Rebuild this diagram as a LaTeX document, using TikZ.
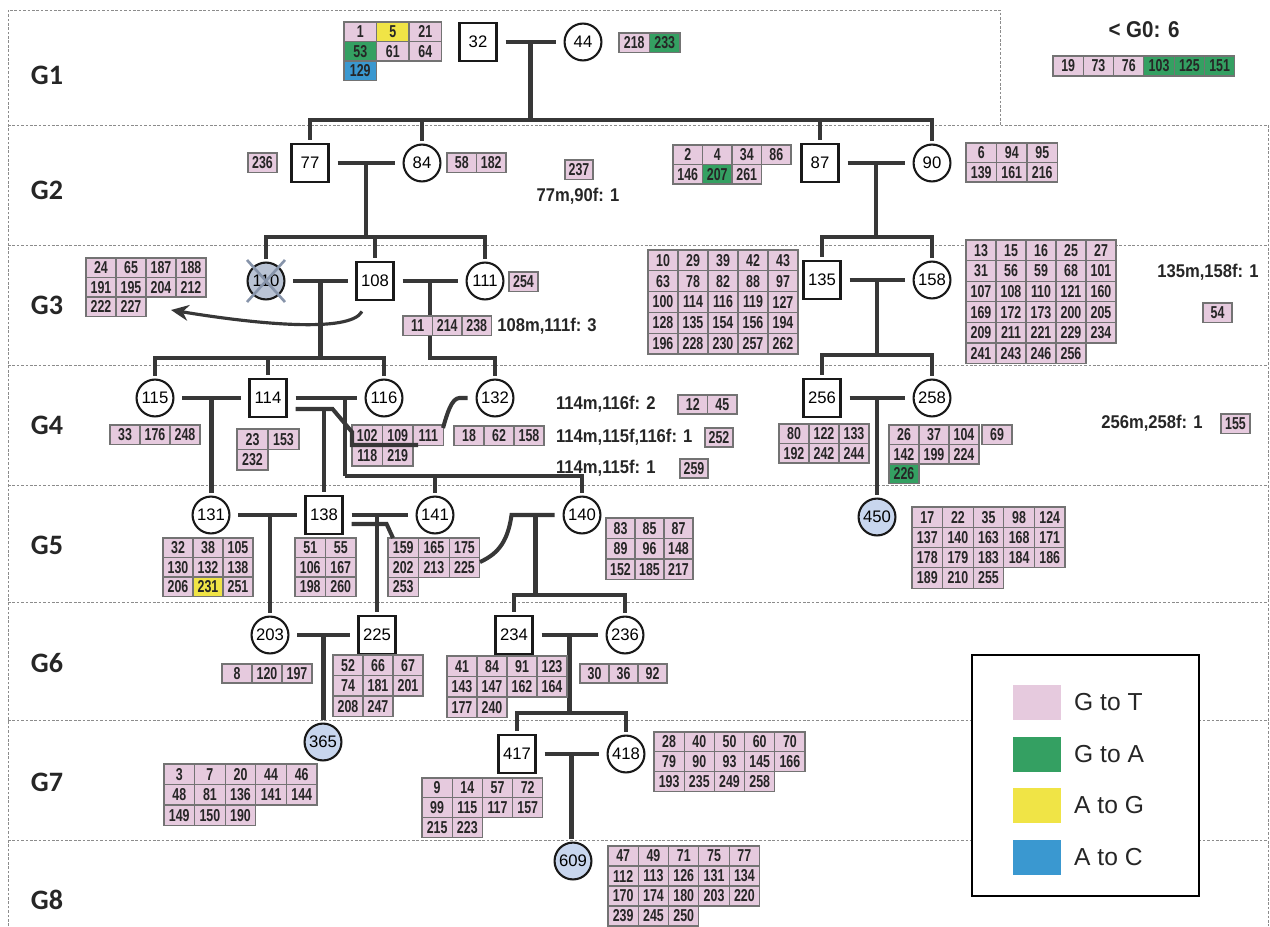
\documentclass[tikz,border=0pt]{standalone}
\usepackage{fontspec}
\setmainfont{Liberation Sans}
\newfontfamily\cellfont[FakeStretch=0.72]{Liberation Sans}
\newfontfamily\notefont[FakeStretch=0.9]{Liberation Sans}
\newfontfamily\genfont{Carlito}
\usepackage{tikz}
\usetikzlibrary{arrows.meta,calc}
\definecolor{mutP}     {RGB}{230, 202, 222}
\definecolor{mutG}     {RGB}{ 52, 160,  98}
\definecolor{mutY}     {RGB}{240, 228,  70}
\definecolor{mutB}     {RGB}{ 58, 152, 208}
\definecolor{lineGray} {RGB}{ 55,  55,  55}
\definecolor{bornBlue} {RGB}{200, 214, 238}
\definecolor{deadBlue} {RGB}{185, 195, 212}
\definecolor{crossGray}{RGB}{135, 148, 170}

% colour of a mutation (pink unless set here)
\newcommand\setmut[2]{\expandafter\def\csname mutc#1\endcsname{#2}}
\setmut{5}{mutY}\setmut{231}{mutY}\setmut{129}{mutB}
\setmut{53}{mutG}\setmut{233}{mutG}\setmut{103}{mutG}\setmut{125}{mutG}
\setmut{151}{mutG}\setmut{207}{mutG}\setmut{226}{mutG}

% block of mutation cells: left x, top y, cell width, cell height, rows
\newcommand\mutbox[5]{%
  \foreach \mrow [count=\mlin from 0] in {#5}{%
    \foreach \mnum [count=\mcol from 0] in \mrow{%
      \edef\fc{\ifcsname mutc\mnum\endcsname\csname mutc\mnum\endcsname\else mutP\fi}%
      \path[cell,fill=\fc] ({#1+\mcol*#3},{#2+\mlin*#4}) rectangle ++(#3,#4)
        node[midway,celltxt]{\mnum};
    }}}

\begin{document}
\begin{tikzpicture}[x=0.02cm,y=-0.02cm,
    male/.style={rectangle,draw=black!90,line width=1.3pt,fill=white,
      minimum width=21pt,minimum height=22pt,inner sep=0pt,
      font=\fontsize{9.5}{10}\selectfont},
    female/.style={circle,draw=black!90,line width=1.2pt,fill=white,
      minimum size=21pt,inner sep=0pt,font=\fontsize{9.5}{10}\selectfont},
    born/.style={female,fill=bornBlue},
    link/.style={draw=lineGray,line width=2.3pt},
    couple/.style={link,shorten <=4.5pt,shorten >=4.5pt},
    drop/.style={link,shorten >=1.5pt},
    cell/.style={draw=black!55,line width=0.6pt},
    celltxt/.style={font={\cellfont\bfseries\fontsize{9.8}{10}\selectfont},
      text=black!85,inner sep=0pt},
    note/.style={font={\notefont\bfseries\fontsize{10.5}{11}\selectfont},
      text=black!85,inner sep=1pt},
    gen/.style={font={\genfont\bfseries\fontsize{16}{18}\selectfont},text=black!85},
    band/.style={draw=black!45,line width=0.5pt,dash pattern=on 1.5pt off 1pt},
    deadx/.style={draw=crossGray,line width=1.5pt},
    legtxt/.style={font=\fontsize{14}{16}\selectfont,text=black!85,anchor=west}]

  \useasboundingbox (0,0) rectangle (1270,926);

  % ─── Generation bands ─────────────────────────────────
  \draw[band] (8,926) -- (8,10) -- (1000,10) -- (1000,125);
  \foreach \y in {125,245,365,485,602,720,840}{
    \draw[band] (8,\y) -- (1268,\y);
  }
  \draw[band] (1268,125) -- (1268,926);
  \foreach \g/\y in {1/75,2/190,3/305,4/425,5/545,6/663,7/782,8/900}{
    \node[gen] (g\g) at (47,\y) {G\g};
  }

  % ─── Individuals ──────────────────────────────────────
  \node[male]   (p32)  at (478,42)  {32};
  \node[female] (p44)  at (583,42)  {44};
  \node[male]   (p77)  at (310,163) {77};
  \node[female] (p84)  at (422,163) {84};
  \node[male]   (p87)  at (820,163) {87};
  \node[female] (p90)  at (932,163) {90};
  \node[female,fill=deadBlue] (p110) at (266,281) {110};
  \node[male]   (p108) at (375,281) {108};
  \node[female] (p111) at (485,281) {111};
  \node[male]   (p135) at (822,280) {135};
  \node[female] (p158) at (932,280) {158};
  \node[female] (p115) at (155,398) {115};
  \node[male]   (p114) at (268,398) {114};
  \node[female] (p116) at (384,398) {116};
  \node[female] (p132) at (495,398) {132};
  \node[male]   (p256) at (822,398) {256};
  \node[female] (p258) at (932,398) {258};
  \node[female] (p131) at (211,515) {131};
  \node[male]   (p138) at (324,515) {138};
  \node[female] (p141) at (435,515) {141};
  \node[female] (p140) at (582,515) {140};
  \node[born]   (p450) at (877,517) {450};
  \node[female] (p203) at (270,635) {203};
  \node[male]   (p225) at (377,635) {225};
  \node[male]   (p234) at (514,635) {234};
  \node[female] (p236) at (625,635) {236};
  \node[born]   (p365) at (323,742) {365};
  \node[male]   (p417) at (517,754) {417};
  \node[female] (p418) at (626,754) {418};
  \node[born]   (p609) at (573,861) {609};
  % 110 crossed out
  \draw[deadx] ($(p110)+(-19,-21)$) -- ($(p110)+(19,21)$);
  \draw[deadx] ($(p110)+(-19,21)$) -- ($(p110)+(19,-21)$);

  % ─── Couples and descents ─────────────────────────────
  \draw[couple] (p32) -- (p44);
  \coordinate (m32) at ($(p32)!.5!(p44)$);
  \coordinate (k32) at ($(m32)+(0,78)$);
  \draw[link] (m32) -- (k32);
  \draw[drop] (k32) -| (p77.north);
  \draw[drop] (k32) -| (p90.north);
  \draw[drop] (k32 -| p84) -- (p84.north);
  \draw[drop] (k32 -| p87) -- (p87.north);

  \draw[couple] (p77) -- (p84);
  \coordinate (m77) at ($(p77)!.5!(p84)$);
  \coordinate (k77) at ($(m77)+(0,74)$);
  \draw[link] (m77) -- (k77);
  \draw[drop] (k77) -| (p110.north);
  \draw[drop] (k77) -| (p111.north);
  \draw[drop] (k77 -| p108) -- (p108.north);

  \draw[couple] (p87) -- (p90);
  \coordinate (m87) at ($(p87)!.5!(p90)$);
  \coordinate (k87) at ($(m87)+(0,74)$);
  \draw[link] (m87) -- (k87);
  \draw[drop] (k87) -| (p135.north);
  \draw[drop] (k87) -| (p158.north);

  \draw[couple] (p110) -- (p108);
  \coordinate (m110) at ($(p110)!.5!(p108)$);
  \coordinate (k110) at ($(m110)+(0,77)$);
  \draw[link] (m110) -- (k110);
  \draw[drop] (k110) -| (p115.north);
  \draw[drop] (k110) -| (p116.north);
  \draw[drop] (k110 -| p114) -- (p114.north);

  \draw[couple] (p108) -- (p111);
  \coordinate (m108) at ($(p108)!.5!(p111)$);
  \coordinate (k108) at ($(m108)+(0,77)$);
  \draw[drop] (m108) -- (k108) -| (p132.north);

  \draw[couple] (p135) -- (p158);
  \coordinate (m135) at ($(p135)!.5!(p158)$);
  \coordinate (k135) at ($(m135)+(0,75)$);
  \draw[link] (m135) -- (k135);
  \draw[drop] (k135) -| (p256.north);
  \draw[drop] (k135) -| (p258.north);

  \draw[couple] (p115) -- (p114);
  \coordinate (m115) at ($(p115)!.5!(p114)$);
  \draw[drop] (m115) -- (m115 |- p131.north);

  \draw[couple] (p114) -- (p116);
  \coordinate (m114) at ($(p114.east)+(57,0)$);
  \coordinate (k114) at ($(m114)+(0,78)$);
  \draw[link] (m114) -- (k114);
  \draw[drop] (k114) -| (p140.north);
  \draw[drop] (k114 -| p141) -- (p141.north);
  \coordinate (t114) at ($(p114.east)+(8,11)$);
  \draw[drop] (t114 -| p138) -- (p138.north);

  \draw[couple] (p256) -- (p258);
  \coordinate (m256) at ($(p256)!.5!(p258)$);
  \draw[drop] (m256) -- (p450.north);

  \draw[couple] (p131) -- (p138);
  \draw[drop] (p203 |- p131) -- (p203.north);

  \draw[couple] (p138) -- (p141);
  \draw[drop] (p225 |- p138) -- (p225.north);

  \coordinate (m140) at ($(p140.west)+(-27,0)$);
  \coordinate (k140) at ($(m140)+(0,80)$);
  \draw[link] (m140) -- (k140);
  \draw[drop] (k140) -| (p234.north);
  \draw[drop] (k140) -| (p236.north);

  \draw[couple] (p203) -- (p225);
  \coordinate (m203) at ($(p203)!.5!(p225)$);
  \draw[drop] (m203) -- (m203 |- p365.north);

  \draw[couple] (p234) -- (p236);
  \coordinate (m234) at ($(p234)!.5!(p236)$);
  \coordinate (k234) at ($(m234)+(0,78)$);
  \draw[link] (m234) -- (k234);
  \draw[drop] (k234) -| (p417.north);
  \draw[drop] (k234) -| (p418.north);

  \draw[couple] (p417) -- (p418);
  \coordinate (m417) at ($(p417)!.5!(p418)$);
  \draw[drop] (m417) -- (m417 |- p609.north);

  % ─── Mutation blocks ──────────────────────────────────
  % G1
  \mutbox{344}{22}{32.5}{19.5}{{1,5,21},{53,61,64},{129}}
  \mutbox{619}{33}{30.5}{19.5}{{218,233}}
  \mutbox{1053}{56}{30.3}{20}{{19,73,76,103,125,151}}
  % G2
  \mutbox{248}{153}{29}{19.5}{{236}}
  \mutbox{447}{153}{29.5}{19.5}{{58,182}}
  \mutbox{565}{160}{28}{19.5}{{237}}
  \mutbox{673}{145}{29.5}{19.5}{{2,4,34,86},{146,207,261}}
  \mutbox{966}{143}{30.5}{19.5}{{6,94,95},{139,161,216}}
  % G3
  \mutbox{86}{258}{30}{19.5}{{24,65,187,188},{191,195,204,212},{222,227}}
  \mutbox{509}{272}{29}{19.5}{{254}}
  \mutbox{403}{316}{29.5}{19.5}{{11,214,238}}
  \mutbox{648}{250}{30}{20.8}{{10,29,39,42,43},{63,78,82,88,97},
    {100,114,116,119,127},{128,135,154,156,194},{196,228,230,257,262}}
  \mutbox{966}{240}{30}{20.6}{{13,15,16,25,27},{31,56,59,68,101},
    {107,108,110,121,160},{169,172,173,200,205},{209,211,221,229,234},
    {241,243,246,256}}
  \mutbox{1203}{303}{29}{19.5}{{54}}
  % G4
  \mutbox{110}{425}{30}{19.5}{{33,176,248}}
  \mutbox{237}{429}{31}{20.5}{{23,153},{232}}
  \mutbox{352}{425}{30.5}{20.5}{{102,109,111},{118,219}}
  \mutbox{454}{426}{30}{19.5}{{18,62,158}}
  \mutbox{678}{395}{29.5}{19}{{12,45}}
  \mutbox{705}{428}{28}{19}{{252}}
  \mutbox{680}{459}{28}{19}{{259}}
  \mutbox{779}{424}{30}{19.5}{{80,122,133},{192,242,244}}
  \mutbox{889}{425}{30}{19.5}{{26,37,104},{142,199,224},{226}}
  \mutbox{982}{425}{30}{19.5}{{69}}
  \mutbox{1221}{414}{29}{19.5}{{155}}
  % G5
  \mutbox{163}{538}{30}{19.5}{{32,38,105},{130,132,138},{206,231,251}}
  \mutbox{295}{538}{30.5}{19.5}{{51,55},{106,167},{198,260}}
  \mutbox{388}{538}{30.6}{19.6}{{159,165,175},{202,213,225},{253}}
  \mutbox{606}{518}{29}{20.5}{{83,85,87},{89,96,148},{152,185,217}}
  \mutbox{912}{507}{30.6}{20.3}{{17,22,35,98,124},{137,140,163,168,171},
    {178,179,183,184,186},{189,210,255}}
  % G6
  \mutbox{222}{664}{30}{19}{{8,120,197}}
  \mutbox{333}{655}{30}{20.5}{{52,66,67},{74,181,201},{208,247}}
  \mutbox{447}{656}{30}{20.5}{{41,84,91,123},{143,147,162,164},{177,240}}
  \mutbox{580}{664}{29}{19}{{30,36,92}}
  % G7
  \mutbox{164}{764}{30.6}{20.5}{{3,7,20,44,46},{48,81,136,141,144},{149,150,190}}
  \mutbox{422}{778}{30.2}{19.7}{{9,14,57,72},{99,115,117,157},{215,223}}
  \mutbox{654}{732}{30.2}{19.7}{{28,40,50,60,70},{79,90,93,145,166},
    {193,235,249,258}}
  % G8
  \mutbox{608}{846}{30.3}{20}{{47,49,71,75,77},{112,113,126,131,134},
    {170,174,180,203,220},{239,245,250}}

  % ─── Lines into the blocks ────────────────────────────
  \coordinate (q102) at (352,432);
  \draw[link] (t114) -- ++(37,0) -- (q102) |- ++(66,13);
  \coordinate (q111) at (443,428);
  \draw[link,shorten <=4.5pt] (p132.west) -- ++(-16,0)
    .. controls +(-8,0) and +(4,-14) .. (q111);
  \coordinate (t138) at ($(p138.east)+(8,9)$);
  \coordinate (q159) at (393,538);
  \draw[link] (t138) -- ++(35,0) -- (q159);
  \coordinate (q225) at (480,562);
  \draw[link,shorten <=4.5pt] (p140.west) -- ++(-51,0)
    .. controls +(-4,30) and +(15,-7) .. (q225);
  % 108 -> block of 110
  \coordinate (a110) at (171,310);
  \draw[link,line width=1.8pt,-{Stealth[length=10pt,width=9pt]}]
    ($(p108.south)+(-13,10)$) .. controls +(-12,22) and +(85,14) .. (a110);

  % ─── Counts ───────────────────────────────────────────
  \node[font={\notefont\bfseries\fontsize{13}{14}\selectfont},text=black!85] (g0) at (1144,30) {< G0: 6};
  \node[note] (r77)  at (578,196)  {77m,90f: 1};
  \node[note] (r108) at (547,326)  {108m,111f: 3};
  \node[note] (r135) at (1208,272) {135m,158f: 1};
  \node[note,anchor=west] (r114a) at (554,404) {114m,116f: 2};
  \node[note,anchor=west] (r114b) at (554,437) {114m,115f,116f: 1};
  \node[note,anchor=west] (r114c) at (554,468) {114m,115f: 1};
  \node[note] (r256) at (1152,423) {256m,258f: 1};

  % ─── Legend ───────────────────────────────────────────
  \draw[line width=1pt,fill=white] (972,655) rectangle (1199,896);
  \foreach \y/\c/\t in {685/mutP/G to T,737/mutG/G to A,788/mutY/A to G,840/mutB/A to C}{
    \fill[\c] (1013,\y) rectangle ++(48,35);
    \node[legtxt] (leg\c) at (1068,\y+17.5) {\t};
  }

\end{tikzpicture}
\end{document}
